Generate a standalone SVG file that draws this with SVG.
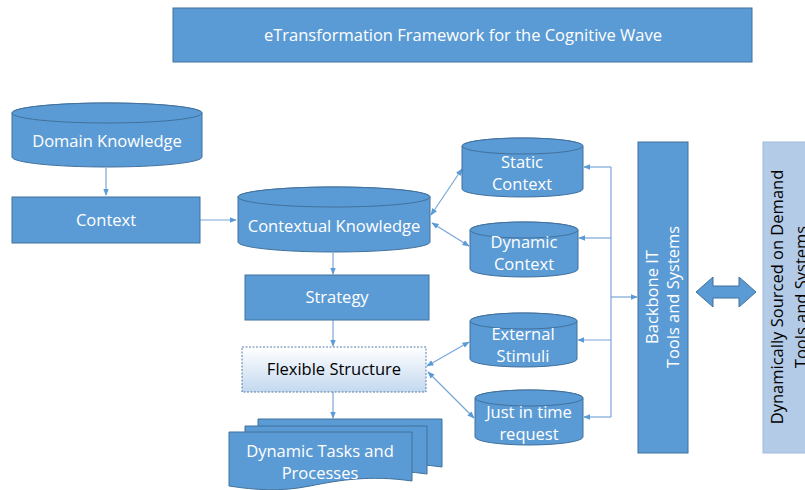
<svg xmlns="http://www.w3.org/2000/svg" width="805" height="490" viewBox="0 0 805 490">
<defs>
<style>
.box{fill:#5b9bd5;stroke:#41719c;stroke-width:1}
.cyl{fill:#5b9bd5;stroke:#41719c;stroke-width:1}
.t{font-family:"Open Sans","Noto Sans",sans-serif;font-size:16.5px;fill:#ffffff;text-anchor:middle}
.tk{font-family:"Open Sans","Noto Sans",sans-serif;font-size:16.5px;fill:#000000;text-anchor:middle}
.c{fill:none;stroke:#7aa6d8;stroke-width:1.2}
</style>
<marker id="ah" viewBox="0 0 10 10" refX="9" refY="5" markerWidth="6" markerHeight="6" orient="auto-start-reverse">
<path d="M0,1 L10,5 L0,9 z" fill="#5b9bd5"/>
</marker>
<linearGradient id="fg" x1="0" y1="0" x2="0" y2="1">
<stop offset="0" stop-color="#ffffff"/>
<stop offset="1" stop-color="#c3d8ef"/>
</linearGradient>
</defs>
<rect width="805" height="490" fill="#ffffff"/>

<g id="title">
<rect class="box" x="173" y="8" width="579" height="54"/>
<text class="t" x="463" y="41">eTransformation Framework for the Cognitive Wave</text>
</g>

<g id="connectors">
<line class="c" x1="106" y1="168" x2="106" y2="195" marker-end="url(#ah)"/>
<line class="c" x1="200" y1="220" x2="236" y2="220" marker-end="url(#ah)"/>
<line class="c" x1="333" y1="253" x2="333" y2="274" marker-end="url(#ah)"/>
<line class="c" x1="333" y1="320" x2="333" y2="346" marker-end="url(#ah)"/>
<line class="c" x1="333" y1="392" x2="333" y2="418" marker-end="url(#ah)"/>
<line class="c" x1="431" y1="215" x2="462" y2="169" marker-start="url(#ah)" marker-end="url(#ah)"/>
<line class="c" x1="432" y1="223" x2="469" y2="246" marker-start="url(#ah)" marker-end="url(#ah)"/>
<line class="c" x1="427" y1="366" x2="469" y2="342" marker-start="url(#ah)" marker-end="url(#ah)"/>
<line class="c" x1="428" y1="372" x2="474" y2="418" marker-start="url(#ah)" marker-end="url(#ah)"/>
<polyline class="c" points="611,167 611,417"/>
<line class="c" x1="611" y1="167" x2="584" y2="167" marker-end="url(#ah)"/>
<line class="c" x1="611" y1="238" x2="579" y2="238" marker-end="url(#ah)"/>
<line class="c" x1="611" y1="340" x2="578" y2="340" marker-end="url(#ah)"/>
<line class="c" x1="611" y1="417" x2="584" y2="417" marker-end="url(#ah)"/>
<line class="c" x1="611" y1="297" x2="637" y2="297" marker-end="url(#ah)"/>
<path d="M696,292 L713,277 L713,286 L739,286 L739,277 L756,292 L739,307 L739,298 L713,298 L713,307 Z" fill="#5b9bd5" stroke="#41719c" stroke-width="1"/>
</g>

<g id="domain-knowledge">
<path class="cyl" d="M12,113 A95,10 0 0 1 202,113 V157 A95,10 0 0 1 12,157 Z"/>
<ellipse class="cyl" cx="107" cy="113" rx="95" ry="10"/>
<text class="t" x="107" y="147">Domain Knowledge</text>
</g>

<g id="context">
<rect class="box" x="12" y="197" width="188" height="46"/>
<text class="t" x="106" y="226">Context</text>
</g>

<g id="contextual-knowledge">
<path class="cyl" d="M238,197 A96,10 0 0 1 430,197 V242 A96,10 0 0 1 238,242 Z"/>
<ellipse class="cyl" cx="334" cy="197" rx="96" ry="10"/>
<text class="t" x="334" y="232">Contextual Knowledge</text>
</g>

<g id="strategy">
<rect class="box" x="245" y="275" width="184" height="45"/>
<text class="t" x="337" y="303">Strategy</text>
</g>

<g id="flexible-structure">
<rect x="242" y="347" width="184" height="45" fill="url(#fg)" stroke="#5a7fa8" stroke-width="1" stroke-dasharray="2,1.5"/>
<text class="tk" x="334" y="375">Flexible Structure</text>
</g>

<g id="dynamic-tasks">
<path class="box" d="M258,419 H442 V467 C410,462 385,466 360,472 C330,478 290,476 258,470 Z"/>
<path class="box" d="M245,426 H427 V474 C395,469 370,473 345,479 C315,485 275,483 245,477 Z"/>
<path class="box" d="M229,432 H412 V481 C370,475 340,480 310,486 C280,492 255,490 229,486 Z"/>
<text class="t" x="320" y="457">Dynamic Tasks and</text>
<text class="t" x="320" y="479">Processes</text>
</g>

<g id="static-context">
<path class="cyl" d="M462,146 A60.5,8 0 0 1 583,146 V189 A60.5,8 0 0 1 462,189 Z"/>
<ellipse class="cyl" cx="522.5" cy="146" rx="60.5" ry="8"/>
<text class="t" x="522" y="168">Static</text>
<text class="t" x="522" y="190">Context</text>
</g>

<g id="dynamic-context">
<path class="cyl" d="M470,230 A54,8 0 0 1 578,230 V269 A54,8 0 0 1 470,269 Z"/>
<ellipse class="cyl" cx="524" cy="230" rx="54" ry="8"/>
<text class="t" x="524" y="248">Dynamic</text>
<text class="t" x="524" y="270">Context</text>
</g>

<g id="external-stimuli">
<path class="cyl" d="M470,321 A53.5,8 0 0 1 577,321 V359 A53.5,8 0 0 1 470,359 Z"/>
<ellipse class="cyl" cx="523.5" cy="321" rx="53.5" ry="8"/>
<text class="t" x="523" y="340">External</text>
<text class="t" x="523" y="362">Stimuli</text>
</g>

<g id="just-in-time">
<path class="cyl" d="M475,398 A54,8 0 0 1 583,398 V437 A54,8 0 0 1 475,437 Z"/>
<ellipse class="cyl" cx="529" cy="398" rx="54" ry="8"/>
<text class="t" x="529" y="418">Just in time</text>
<text class="t" x="529" y="440">request</text>
</g>

<g id="backbone-it">
<rect class="box" x="638" y="142" width="50" height="311"/>
<text class="t" transform="translate(658,297) rotate(-90)" x="0" y="0">Backbone IT</text>
<text class="t" transform="translate(679,297) rotate(-90)" x="0" y="0">Tools and Systems</text>
</g>

<g id="dynamically-sourced">
<rect x="763" y="142" width="60" height="311" fill="#b4cbe7" stroke="#a0bbdd" stroke-width="1"/>
<text class="tk" transform="translate(783,297) rotate(-90)" x="0" y="0">Dynamically Sourced on Demand</text>
<text class="tk" transform="translate(807,297) rotate(-90)" x="0" y="0">Tools and Systems</text>
</g>
</svg>
